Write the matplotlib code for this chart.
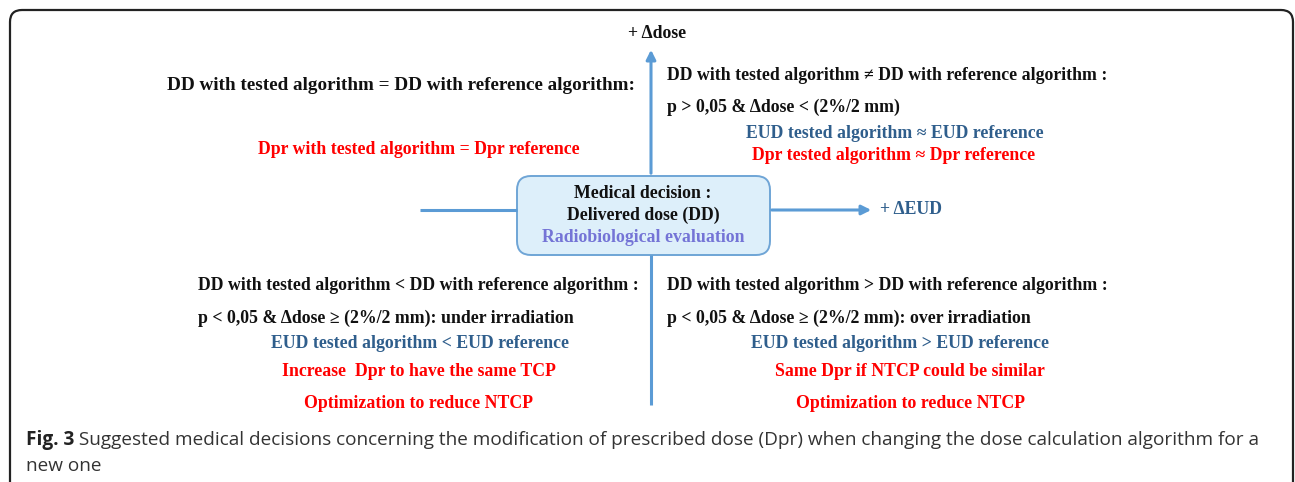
import matplotlib
matplotlib.use("Agg")
import matplotlib.pyplot as plt
from matplotlib.patches import FancyBboxPatch
from matplotlib.path import Path
from matplotlib.patches import PathPatch

# ---- content ----
axis_up_label = "+ \u0394dose"
axis_right_label = "+ \u0394EUD"
center_lines = ["Medical decision :", "Delivered dose (DD)", "Radiobiological evaluation"]

tl_head = "DD with tested algorithm = DD with reference algorithm:"
tl_red = "Dpr with tested algorithm = Dpr reference"

tr_head = "DD with tested algorithm \u2260 DD with reference algorithm :"
tr_cond = "p > 0,05 & \u0394dose < (2%/2 mm)"
tr_blue = "EUD tested algorithm \u2248 EUD reference"
tr_red = "Dpr tested algorithm \u2248 Dpr reference"

bl_head = "DD with tested algorithm < DD with reference algorithm :"
bl_cond = "p < 0,05 & \u0394dose \u2265 (2%/2 mm): under irradiation"
bl_blue = "EUD tested algorithm < EUD reference"
bl_red = ["Increase  Dpr to have the same TCP", "Optimization to reduce NTCP"]

br_head = "DD with tested algorithm > DD with reference algorithm :"
br_cond = "p < 0,05 & \u0394dose \u2265 (2%/2 mm): over irradiation"
br_blue = "EUD tested algorithm > EUD reference"
br_red = ["Same Dpr if NTCP could be similar", "Optimization to reduce NTCP"]

caption_bold = "Fig. 3"
caption_rest = " Suggested medical decisions concerning the modification of prescribed dose (Dpr) when changing the dose calculation algorithm for a"
caption_line2 = "new one"

# ---- style ----
W, H = 1295, 482
BLACK = "#111111"
RED = "#FF0000"
BLUE = "#2F5E8C"
LAV = "#7474D6"
ARROW = "#5B9BD5"
SERIF = ["Liberation Serif", "DejaVu Serif"]
FS = 12.8

fig = plt.figure(figsize=(W / 100, H / 100), dpi=100)
ax = fig.add_axes([0, 0, 1, 1])
ax.set_xlim(0, W)
ax.set_ylim(H, 0)
ax.axis("off")

# outer frame (open at bottom, rounded top corners)
r = 12
verts = [(10, H + 5), (10, 10 + r), (10, 10), (10 + r, 10), (1293 - r, 10), (1293, 10), (1293, 10 + r), (1293, H + 5)]
codes = [Path.MOVETO, Path.LINETO, Path.CURVE3, Path.CURVE3, Path.LINETO, Path.CURVE3, Path.CURVE3, Path.LINETO]
ax.add_patch(PathPatch(Path(verts, codes), fill=False, lw=1.6, ec="#222222"))

def t(x, y, s, color=BLACK, ha="center", size=FS, fam=SERIF, weight="bold"):
    return ax.text(x, y, s, color=color, ha=ha, va="center", fontsize=size,
                   family=fam, fontweight=weight)

# axes arrows
cx, cy = 651, 210
ax.plot([cx, cx], [255, 405], color=ARROW, lw=2.2, solid_capstyle="butt")
ax.annotate("", xy=(cx, 47), xytext=(cx, 176),
            arrowprops=dict(arrowstyle="-|>", color=ARROW, lw=2.2, mutation_scale=14))
ax.plot([420, 517], [cy, cy], color=ARROW, lw=2.2, solid_capstyle="butt")
ax.annotate("", xy=(874, cy), xytext=(769, cy),
            arrowprops=dict(arrowstyle="-|>", color=ARROW, lw=2.2, mutation_scale=14))

# center box
box = FancyBboxPatch((517, 176), 253, 79, boxstyle="round,pad=0,rounding_size=14",
                     fc="#DDEFFA", ec="#6FA5D6", lw=1.4)
ax.add_patch(box)
t(643, 194, center_lines[0])
t(643, 215, center_lines[1])
t(643, 237, center_lines[2], color=LAV)

t(657, 33, axis_up_label)
t(880, 209, axis_right_label, color=BLUE, ha="left")

# top-left
t(401, 86, tl_head, size=13.8)
t(419, 149, tl_red, color=RED)

# top-right
t(667, 76, tr_head, ha="left")
t(667, 107, tr_cond, ha="left")
t(895, 133, tr_blue, color=BLUE)
t(894, 155, tr_red, color=RED)

# bottom-left
t(198, 286, bl_head, ha="left")
t(198, 318, bl_cond, ha="left")
t(420, 343, bl_blue, color=BLUE)
t(419, 371, bl_red[0], color=RED)
t(419, 404, bl_red[1], color=RED)

# bottom-right
t(667, 286, br_head, ha="left")
t(667, 318, br_cond, ha="left")
t(900, 343, br_blue, color=BLUE)
t(910, 371, br_red[0], color=RED)
t(910, 404, br_red[1], color=RED)

# caption
CAP = ["Open Sans", "DejaVu Sans"]
CFS = 13.7
fb = ax.text(26, 440, caption_bold, ha="left", va="center", fontsize=CFS, family=CAP,
             fontweight="bold", color="#222222")
fig.canvas.draw()
bb = fb.get_window_extent()
x_px = bb.x1
ax.text(x_px, 440, caption_rest, ha="left", va="center", fontsize=CFS, family=CAP,
        color="#333333")
ax.text(26, 466, caption_line2, ha="left", va="center", fontsize=CFS, family=CAP,
        color="#333333")

fig.savefig("out.png", dpi=100)
